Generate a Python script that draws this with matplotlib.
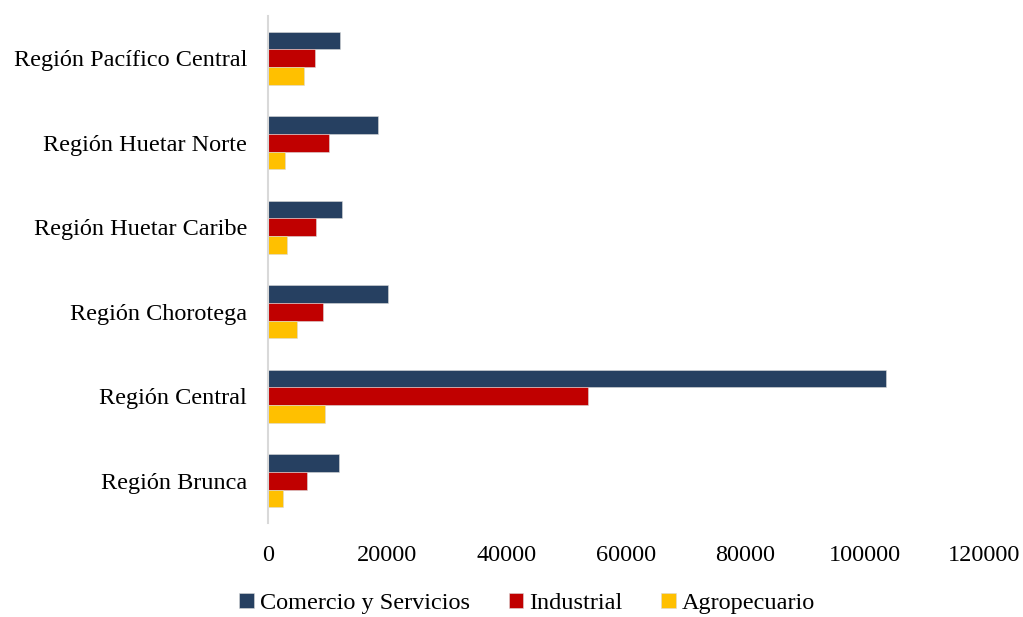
import matplotlib.pyplot as plt
import numpy as np

# ── Data ──────────────────────────────────────────────────────────────────────
regions = ['Región Brunca', 'Región Central', 'Región Chorotega',
           'Región Huetar Caribe', 'Región Huetar Norte', 'Región Pacífico Central']
comercio = [11840, 103600, 20150, 12340, 18430, 12100]
industrial = [6520, 53700, 9210, 7990, 10220, 7870]
agropecuario = [2450, 9480, 4860, 3240, 2800, 5980]

series = [('Comercio y Servicios', comercio, '#264061'),
          ('Industrial', industrial, '#C00000'),
          ('Agropecuario', agropecuario, '#FFC000')]

plt.rcParams['font.family'] = ['Liberation Serif', 'DejaVu Serif']

fig = plt.figure(figsize=(10.23, 6.17), dpi=100)
ax = fig.add_axes([268 / 1023, 1 - 523 / 617, (984 - 268) / 1023, (523 - 16) / 617])

y = np.arange(len(regions))
h = 0.21
for k, (name, vals, col) in enumerate(series):
    ax.barh(y + h * (1 - k), vals, height=h, color=col, label=name,
            edgecolor='#d9d9d9', linewidth=0.4)

ax.set_xlim(0, 120000)
ax.set_ylim(-0.5, len(regions) - 0.5)
ax.set_yticks(y)
ax.set_yticklabels(regions, fontsize=17.5)
ax.set_xticks(np.arange(0, 120001, 20000))
ax.tick_params(axis='x', labelsize=17.5, length=0, pad=16)
ax.tick_params(axis='y', length=0, pad=15)

for s in ['top', 'right', 'bottom']:
    ax.spines[s].set_visible(False)
ax.spines['left'].set_color('#d9d9d9')
ax.spines['left'].set_linewidth(1.5)

ax.legend(loc='upper center', bbox_to_anchor=(0.362, -0.128), ncol=3, frameon=False,
          fontsize=17.5, handlelength=0.6, handleheight=0.6, handletextpad=0.25,
          columnspacing=1.6, borderaxespad=0.0, borderpad=0.2)

fig.savefig('out.png', dpi=100)
